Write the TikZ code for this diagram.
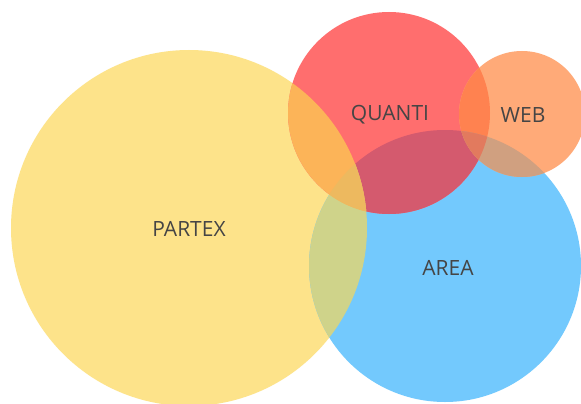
\documentclass[tikz,border=0pt]{standalone}
\usepackage{fontspec}
\setmainfont{Open Sans}
% Fill colours of the four sets and of their overlaps
\definecolor{partexyellow}{HTML}{FDE38A}
\definecolor{areablue}{HTML}{73C9FD}
\definecolor{quantired}{HTML}{FF6E6E}
\definecolor{weborange}{HTML}{FFAA78}
\definecolor{yellowblue}{HTML}{CFD38A}
\definecolor{yellowred}{HTML}{FCB458}
\definecolor{yellowredblue}{HTML}{EDB95F}
\definecolor{redblue}{HTML}{D45A6E}
\definecolor{redweb}{HTML}{FF8250}
\definecolor{webblue}{HTML}{D0A080}
\definecolor{redwebblue}{HTML}{E27A5E}
\definecolor{textgray}{HTML}{454545}
\begin{document}
\begin{tikzpicture}[x=1pt, y=-1pt,
    setname/.style={font=\fontsize{21}{24}\selectfont, text=textgray, inner sep=0pt}]
    % White background
    \fill[white] (0,0) rectangle (581,404);
    \useasboundingbox (0,0) rectangle (581,404);
    % Circle centres
    \coordinate (partex) at (189,228);
    \coordinate (area) at (445,266);
    \coordinate (quanti) at (389,113);
    \coordinate (web) at (522,114);
    % Plain circles
    \fill[partexyellow] (partex) circle[radius=178];
    \fill[areablue] (area) circle[radius=136];
    \fill[quantired] (quanti) circle[radius=101];
    \fill[weborange] (web) circle[radius=63];
    % Quanti overlaps
    \begin{scope}
      \clip (quanti) circle[radius=101];
      \fill[redblue] (area) circle[radius=136];
      \fill[redweb] (web) circle[radius=63];
      \clip (area) circle[radius=136];
      \fill[redwebblue] (web) circle[radius=63];
    \end{scope}
    % Web over area
    \begin{scope}
      \clip (web) circle[radius=63];
      \clip (area) circle[radius=136];
      \fill[webblue] (web) circle[radius=63];
      \fill[redwebblue] (quanti) circle[radius=101];
    \end{scope}
    % Partex overlaps
    \begin{scope}
      \clip (partex) circle[radius=178];
      \fill[yellowblue] (area) circle[radius=136];
      \fill[yellowred] (quanti) circle[radius=101];
      \clip (area) circle[radius=136];
      \fill[yellowredblue] (quanti) circle[radius=101];
    \end{scope}
    % Set names
    \node[setname] (partexname) at (189,229) {PARTEX};
    \node[setname] (areaname) at (448,268) {AREA};
    \node[setname] (quantiname) at (390,115) {QUANTI};
    \node[setname] (webname) at (523,115) {WEB};
\end{tikzpicture}
\end{document}
